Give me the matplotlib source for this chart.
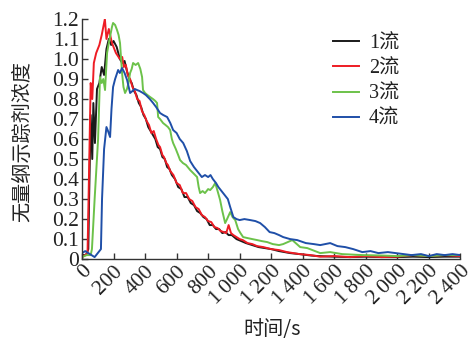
import matplotlib
matplotlib.use("Agg")
import matplotlib.pyplot as plt
from matplotlib.ticker import FixedLocator, FuncFormatter

SERIF = ["Liberation Serif", "Noto Sans CJK SC", "DejaVu Serif"]
CJK = ["Noto Sans CJK SC", "DejaVu Sans"]
plt.rcParams["font.family"] = SERIF

# tracer response curves for the four strands (time in s, dimensionless concentration)
t1 = [0, 25, 40, 45, 55, 65, 72, 82, 95, 110, 125, 140, 155, 170, 185, 200, 220,
      240, 255, 270, 285, 300, 315, 330, 345, 360, 375, 390, 405, 420, 435, 450,
      465, 480, 495, 510, 525, 540, 555, 570, 590, 610, 630, 650, 670, 690, 710,
      730, 750, 770, 790, 810, 830, 850, 870, 890, 910, 930, 950, 980, 1010, 1040,
      1080, 1120, 1160, 1200, 1250, 1320, 1380, 1450, 1500, 1600, 1700, 1800, 1900,
      2000, 2100, 2200, 2300, 2400]
c1 = [0.02, 0.02, 0.05, 0.3, 0.72, 0.5, 0.78, 0.58, 0.85, 0.88, 0.96, 0.92, 1.05,
      1.1, 1.07, 1.09, 1.06, 1.0, 0.98, 0.99, 0.94, 0.9, 0.88, 0.84, 0.82, 0.78,
      0.76, 0.72, 0.7, 0.66, 0.64, 0.62, 0.6, 0.56, 0.55, 0.51, 0.5, 0.46, 0.45,
      0.42, 0.4, 0.36, 0.35, 0.31, 0.31, 0.28, 0.27, 0.24, 0.23, 0.21, 0.2, 0.17,
      0.17, 0.15, 0.15, 0.13, 0.135, 0.12, 0.12, 0.1, 0.09, 0.08, 0.07, 0.06, 0.055,
      0.05, 0.04, 0.03, 0.025, 0.018, 0.015, 0.012, 0.01, 0.012, 0.01, 0.01, 0.012,
      0.01, 0.012, 0.012]

t2 = [0, 20, 35, 45, 55, 65, 75, 90, 110, 125, 145, 155, 170, 190, 215, 240, 255,
      265, 278, 290, 305, 320, 335, 350, 365, 380, 395, 410, 425, 440, 455, 470,
      485, 495, 510, 520, 535, 545, 560, 580, 600, 620, 640, 660, 680, 700, 720,
      740, 760, 780, 800, 820, 840, 860, 880, 900, 915, 930, 945, 960, 980, 1000,
      1020, 1050, 1080, 1110, 1150, 1200, 1250, 1300, 1380, 1450, 1510, 1600, 1700,
      1800, 1900, 2000, 2100, 2200, 2300, 2400]
c2 = [0.01, 0.02, 0.03, 0.45, 0.88, 0.8, 0.98, 1.03, 1.07, 1.12, 1.2, 1.1, 1.15,
      1.08, 1.03, 1.0, 1.01, 0.96, 0.97, 0.92, 0.9, 0.86, 0.84, 0.8, 0.79, 0.74,
      0.72, 0.69, 0.67, 0.63, 0.64, 0.6, 0.57, 0.56, 0.52, 0.51, 0.48, 0.47, 0.44,
      0.42, 0.38, 0.37, 0.33, 0.33, 0.3, 0.29, 0.26, 0.25, 0.22, 0.21, 0.19, 0.185,
      0.16, 0.155, 0.14, 0.135, 0.13, 0.17, 0.13, 0.12, 0.11, 0.1, 0.095, 0.08,
      0.075, 0.065, 0.06, 0.05, 0.045, 0.035, 0.025, 0.02, 0.012, 0.015, 0.01,
      0.015, 0.01, 0.012, 0.02, 0.015, 0.02, 0.015]

t3 = [0, 30, 55, 63, 80, 102, 114, 125, 135, 146, 159, 170, 180, 190, 197, 210,
      222, 232, 241, 248, 254, 263, 273, 285, 295, 305, 315, 324, 340, 356, 370,
      381, 387, 400, 415, 432, 450, 465, 476, 483, 495, 514, 530, 545, 559, 570,
      578, 595, 610, 622, 640, 660, 686, 705, 730, 740, 749, 765, 780, 800, 813,
      830, 845, 860, 876, 890, 908, 920, 940, 955, 972, 990, 1005, 1022, 1050, 1080,
      1111, 1140, 1175, 1210, 1250, 1276, 1334, 1384, 1429, 1511, 1574, 1650, 1780,
      1900, 2000, 2100, 2200, 2300, 2400]
c3 = [0.01, 0.02, 0.02, 0.05, 0.3, 0.6, 0.91, 0.88, 0.9, 0.845, 1.03, 1.08, 1.12,
      1.16, 1.18, 1.17, 1.145, 1.12, 1.08, 1.0, 0.93, 0.86, 0.83, 0.85, 0.88, 0.93,
      0.95, 0.98, 0.97, 0.98, 0.95, 0.91, 0.845, 0.83, 0.82, 0.81, 0.8, 0.79, 0.78,
      0.71, 0.7, 0.68, 0.67, 0.66, 0.645, 0.6, 0.58, 0.55, 0.52, 0.495, 0.48, 0.47,
      0.445, 0.43, 0.41, 0.36, 0.33, 0.34, 0.33, 0.35, 0.345, 0.36, 0.38, 0.34,
      0.295, 0.24, 0.18, 0.2, 0.235, 0.21, 0.195, 0.15, 0.13, 0.11, 0.105, 0.1,
      0.095, 0.09, 0.085, 0.075, 0.07, 0.075, 0.095, 0.06, 0.055, 0.03, 0.035,
      0.025, 0.02, 0.018, 0.015, 0.02, 0.015, 0.02, 0.02]

t4 = [0, 20, 40, 60, 80, 100, 120, 127, 140, 155, 165, 178, 187, 197, 210, 229,
      240, 254, 270, 286, 305, 320, 335, 349, 365, 387, 405, 430, 451, 470, 495,
      515, 540, 560, 578, 600, 620, 642, 665, 686, 710, 730, 760, 780, 800, 815,
      830, 850, 865, 885, 905, 925, 940, 960, 980, 1000, 1030, 1067, 1100, 1130,
      1160, 1190, 1220, 1250, 1276, 1320, 1365, 1420, 1470, 1511, 1574, 1620, 1670,
      1720, 1778, 1830, 1880, 1940, 1990, 2040, 2090, 2150, 2200, 2250, 2300, 2350,
      2400]
c4 = [0.03, 0.04, 0.03, 0.02, 0.01, 0.03, 0.05, 0.3, 0.55, 0.66, 0.64, 0.61, 0.75,
      0.86, 0.9, 0.945, 0.93, 0.955, 0.93, 0.895, 0.83, 0.84, 0.85, 0.845, 0.84,
      0.83, 0.82, 0.8, 0.78, 0.76, 0.73, 0.72, 0.71, 0.68, 0.645, 0.63, 0.6, 0.58,
      0.54, 0.49, 0.46, 0.44, 0.41, 0.42, 0.41, 0.42, 0.4, 0.38, 0.36, 0.34, 0.32,
      0.3, 0.26, 0.21, 0.2, 0.195, 0.2, 0.195, 0.19, 0.18, 0.16, 0.135, 0.13, 0.12,
      0.11, 0.1, 0.095, 0.08, 0.075, 0.07, 0.08, 0.065, 0.06, 0.05, 0.035, 0.04,
      0.03, 0.035, 0.03, 0.025, 0.02, 0.025, 0.015, 0.025, 0.02, 0.025, 0.02]

labels = ["1流", "2流", "3流", "4流"]
colors = ["#1a1a1a", "#ee1c24", "#6cc24a", "#1f4fa8"]

x_ticks = list(range(0, 2401, 200))
y_ticks = [i / 10 for i in range(13)]

fig = plt.figure(figsize=(4.7, 3.45), dpi=100)
ax = fig.add_axes([0.1745, 0.249, 0.805, 0.696])

for t, c, lab, col in zip([t1, t2, t3, t4], [c1, c2, c3, c4], labels, colors):
    ax.plot(t, c, color=col, linewidth=1.4, label=lab)

ax.set_xlim(0, 2400)
ax.set_ylim(0, 1.2)
ax.xaxis.set_major_locator(FixedLocator(x_ticks))
ax.yaxis.set_major_locator(FixedLocator(y_ticks))


def fmt_x(v, _):
    v = int(round(v))
    if v >= 1000:
        return f"{v // 1000}\u2009{v % 1000:03d}"
    return str(v)


def fmt_y(v, _):
    return "0" if abs(v) < 1e-9 else f"{v:.1f}"


ax.xaxis.set_major_formatter(FuncFormatter(fmt_x))
ax.yaxis.set_major_formatter(FuncFormatter(fmt_y))

for side in ("top", "right"):
    ax.spines[side].set_visible(False)
for side in ("left", "bottom"):
    ax.spines[side].set_color("#333333")
    ax.spines[side].set_linewidth(1.0)

ax.tick_params(direction="in", length=4, width=1.0, color="#333333",
               labelsize=15.5, labelcolor="#222222", pad=2)
for lab in ax.get_xticklabels():
    lab.set_rotation(45)
    lab.set_ha("right")
    lab.set_va("top")
    lab.set_rotation_mode("anchor")

ax.set_ylabel("无量纲示踪剂浓度", fontsize=14.5, color="#222222", family=CJK)
ax.yaxis.set_label_coords(-0.13, 0.49)
ax.set_xlabel("时间/s", fontsize=14.5, color="#222222", family=CJK)
ax.xaxis.set_label_coords(0.503, -0.25)

leg = ax.legend(loc="upper right", bbox_to_anchor=(0.86, 0.97), frameon=False,
                fontsize=14.5, handlelength=1.3, handletextpad=0.5,
                labelspacing=0.3, borderaxespad=0)
for txt in leg.get_texts():
    txt.set_color("#222222")

fig.savefig("out.png", dpi=100)
